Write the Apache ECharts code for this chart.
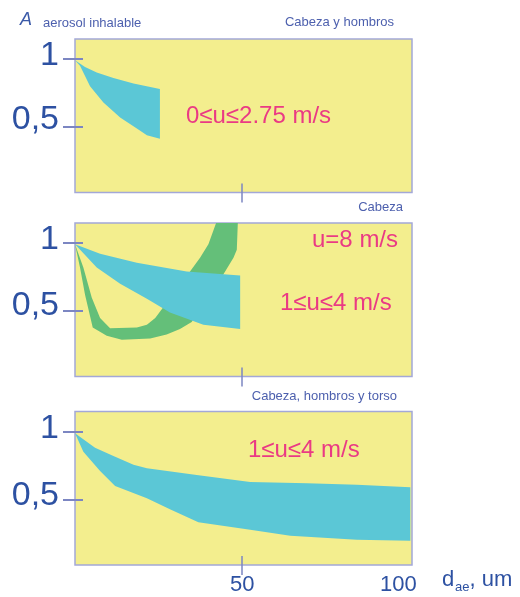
<!DOCTYPE html>
<html>
<head>
<meta charset="utf-8">
<script src="https://cdn.jsdelivr.net/npm/echarts@6/dist/echarts.min.js"></script>
<style>html,body{margin:0;padding:0;background:#fff;}#c{width:520px;height:597px;}</style>
</head>
<body>
<div id="c"></div>
<script>
// ---- data (x: d_ae in um, y: inhalable fraction A) ----
const yTickValues = [0.5, 1];
const yTickLabels = ['0,5', '1'];
const xTickValues = [50, 100];
const xTickLabels = ['50', '100'];

// Panel 1: Cabeza y hombros, 0<=u<=2.75 m/s
const p1Upper = [[0,0.99],[3,0.94],[6.5,0.9],[11.5,0.86],[17.5,0.82],[25.4,0.78]];
const p1Lower = [[0,0.99],[1.5,0.95],[4.5,0.8],[8.5,0.68],[13.5,0.57],[18.5,0.49],[21.5,0.44],[25.4,0.415]];

// Panel 2: Cabeza, 1<=u<=4 m/s (cyan)
const p2Upper = [[0,0.99],[7.5,0.92],[18.5,0.855],[33.4,0.79],[49.4,0.76]];
const p2Lower = [[0,0.99],[6.5,0.82],[13.5,0.7],[21.5,0.59],[28.4,0.49],[38.4,0.4],[49.4,0.37]];
// Panel 2: u=8 m/s (green)
const p2GreenOuter = [[0,0.99],[1.5,0.82],[3,0.62],[5.3,0.38],[9.5,0.32],[14,0.29],[22.5,0.3],[27.4,0.33],[31.4,0.37],[34.9,0.42],[44.4,0.77],[47.4,0.89],[48.4,0.95],[48.7,1.145]];
const p2GreenInner = [[0,0.99],[2.5,0.82],[5,0.6],[7.5,0.45],[10.5,0.375],[18.5,0.38],[21.5,0.4],[24,0.45],[34.4,0.79],[37.4,0.89],[39.9,0.99],[42.2,1.145]];

// Panel 3: Cabeza, hombros y torso, 1<=u<=4 m/s
const p3Upper = [[0,0.985],[6,0.88],[11.5,0.82],[17.5,0.755],[21.5,0.73],[36.4,0.68],[52.4,0.63],[69.4,0.62],[84.3,0.61],[100.3,0.59]];
const p3Lower = [[0,0.985],[2.5,0.85],[7.5,0.71],[12,0.6],[21.5,0.51],[28.4,0.43],[36.9,0.335],[52.4,0.28],[64.4,0.236],[84.3,0.207],[100.3,0.2]];

// ---- styles ----
const FONT = '"Liberation Sans", Arial, sans-serif';
const YELLOW = '#f3ee8e', BORDER = '#a3a8d8', CYAN = '#5bc7d6', GREEN = '#64bf79';
const DARKBLUE = '#2d51a2', SMALLBLUE = '#4d60ae', PINK = '#ea3a84', TICK = '#7c86c2';
const X_MAX = 100.8, Y_MIN = 0.022, Y_MAX = 1.145;
const gridTops = [39, 223, 411.5];
const halfLift = [16, 12, 8];

function band(upper, lower) { return upper.concat(lower.slice().reverse()); }

const grids = gridTops.map(t => ({
  left: 75, top: t, width: 337, height: 153.5, show: true,
  backgroundColor: YELLOW, borderColor: BORDER, borderWidth: 1.5
}));

const xAxes = [], yAxes = [];
gridTops.forEach((t, i) => {
  xAxes.push({
    type: 'value', gridIndex: i, min: 0, max: X_MAX, position: 'bottom',
    axisLine: { show: false }, splitLine: { show: false },
    axisTick: { show: true, customValues: [xTickValues[0]], length: 10, lineStyle: { color: TICK, width: 1.5 } },
    axisLabel: {
      show: i === 2, customValues: xTickValues, margin: 9,
      formatter: v => v === 100 ? '{r|' + xTickLabels[1] + '}' : '{c|' + xTickLabels[0] + '}',
      rich: {
        c: { fontSize: 22, fontFamily: FONT, color: DARKBLUE },
        r: { fontSize: 22, fontFamily: FONT, color: DARKBLUE, padding: [0, 22, 0, 0] }
      }
    }
  });
  xAxes.push({
    type: 'value', gridIndex: i, min: 0, max: X_MAX, position: 'bottom',
    axisLine: { show: false }, splitLine: { show: false }, axisLabel: { show: false },
    axisTick: { show: true, inside: true, customValues: [xTickValues[0]], length: 9, lineStyle: { color: TICK, width: 1.5 } }
  });
  yAxes.push({
    type: 'value', gridIndex: i, min: Y_MIN, max: Y_MAX, position: 'left',
    axisLine: { show: false }, splitLine: { show: false },
    axisTick: { show: true, customValues: yTickValues, length: 12, lineStyle: { color: TICK, width: 2 } },
    axisLabel: {
      customValues: yTickValues, margin: 16,
      formatter: v => v === 1 ? '{one|' + yTickLabels[1] + '}' : '{half|' + yTickLabels[0] + '}',
      rich: {
        one: { fontSize: 34, fontFamily: FONT, color: DARKBLUE, padding: [0, 0, 6, 0] },
        half: { fontSize: 34, fontFamily: FONT, color: DARKBLUE, padding: [0, 0, halfLift[i], 0] }
      }
    }
  });
  yAxes.push({
    type: 'value', gridIndex: i, min: Y_MIN, max: Y_MAX, position: 'left',
    axisLine: { show: false }, splitLine: { show: false }, axisLabel: { show: false },
    axisTick: { show: true, inside: true, customValues: yTickValues, length: 8, lineStyle: { color: TICK, width: 2 } }
  });
});

function polySeries(points, color, gi) {
  return {
    type: 'custom', xAxisIndex: gi * 2, yAxisIndex: gi * 2, clip: true, silent: true,
    data: points,
    renderItem: (params, api) => {
      if (params.dataIndex !== 0) return null;
      return { type: 'polygon', shape: { points: points.map(p => api.coord(p)) }, style: { fill: color } };
    }
  };
}

const series = [
  polySeries(band(p1Upper, p1Lower), CYAN, 0),
  polySeries(band(p2GreenOuter, p2GreenInner), GREEN, 1),
  polySeries(band(p2Upper, p2Lower), CYAN, 1),
  polySeries(band(p3Upper, p3Lower), CYAN, 2)
];

function txt(x, y, text, size, color, opts) {
  return Object.assign({ type: 'text', x: x, y: y, silent: true,
    style: Object.assign({ text: text, fontSize: size, fontFamily: FONT, fill: color, align: 'left', verticalAlign: 'middle' }, (opts || {})) });
}

const graphic = [
  txt(20, 19.5, 'A', 18, '#3b5aa8', { fontStyle: 'italic' }),
  txt(43, 23.5, 'aerosol inhalable', 13, SMALLBLUE),
  txt(394, 22.5, 'Cabeza y hombros', 13, SMALLBLUE, { align: 'right' }),
  txt(403, 207.5, 'Cabeza', 13, SMALLBLUE, { align: 'right' }),
  txt(397, 396.5, 'Cabeza, hombros y torso', 13, SMALLBLUE, { align: 'right' }),
  txt(186, 116, '0≤u≤2.75 m/s', 24, PINK),
  txt(312, 240.5, 'u=8 m/s', 24, PINK),
  txt(280, 303.5, '1≤u≤4 m/s', 24, PINK),
  txt(248, 450, '1≤u≤4 m/s', 24, PINK),
  txt(442, 579.5, 'd', 22, DARKBLUE),
  txt(455, 587.5, 'ae', 13, DARKBLUE),
  txt(469.5, 579.5, ', um', 22, DARKBLUE)
];

const chart = echarts.init(document.getElementById('c'), null, { renderer: 'canvas' });
chart.setOption({
  animation: false,
  backgroundColor: '#ffffff',
  grid: grids, xAxis: xAxes, yAxis: yAxes, series: series, graphic: graphic
});
</script>
</body>
</html>
